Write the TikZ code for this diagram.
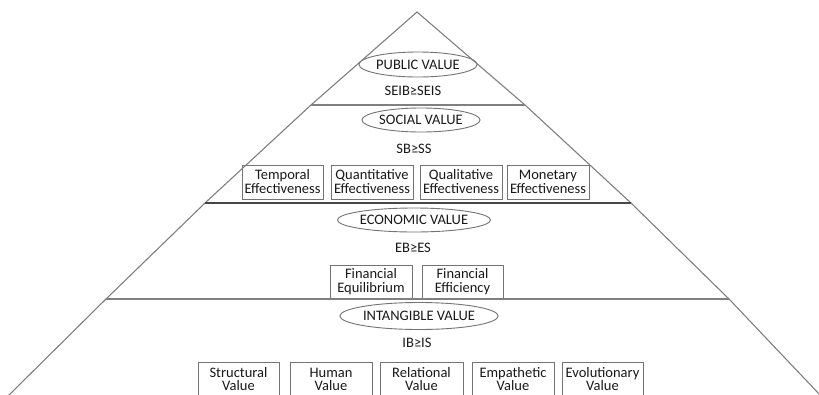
\documentclass[tikz,border=0pt]{standalone}
\usepackage{fontspec}
\setmainfont{Carlito}
\usetikzlibrary{shapes.geometric}
\begin{document}
\begin{tikzpicture}[x=1pt,y=-1pt,
  side/.style={draw=black!50, line width=1.1pt},
  sep/.style={draw=black!50, line width=1.4pt},
  sepdark/.style={draw=black!72, line width=1.6pt},
  lvl/.style={ellipse, draw=black!55, line width=0.9pt, inner sep=0pt, font=\fontsize{14.5}{14}\selectfont, text=black!90},
  rel/.style={font=\fontsize{14.5}{14}\selectfont, text=black!90, inner sep=0pt},
  item/.style={rectangle, draw=black!55, line width=0.9pt, align=center, inner sep=0pt, font=\fontsize{14.5}{14}\selectfont, text=black!90},
  lowitem/.style={item, font=\fontsize{14.5}{13}\selectfont, text depth=0pt}
]
\useasboundingbox (0,0) rectangle (819,394);
\clip (0,0) rectangle (819,394);
\fill[white] (0,0) rectangle (819,394);

% triangle outline
\coordinate (apex) at (417,12);
\coordinate (L1) at (311,105);
\coordinate (L2) at (205,203);
\coordinate (L3) at (106,299);
\coordinate (L4) at (8,396);
\coordinate (R1) at (525,105);
\coordinate (R2) at (631,203);
\coordinate (R3) at (729,299);
\coordinate (R4) at (821,396);

% public value
\node[lvl, minimum width=106pt, minimum height=25pt] (pub) at (418,64.5) {PUBLIC VALUE};
\node[rel] (pubr) at (413,91) {SEIB≥SEIS};

% social value
\node[lvl, minimum width=107pt, minimum height=24pt] (soc) at (421,120) {SOCIAL VALUE};
\node[rel] (socr) at (414,149) {SB≥SS};
\node[item, minimum width=81pt, minimum height=34pt] (temp) at (282.5,182) {Temporal\\Effectiveness};
\node[item, minimum width=82pt, minimum height=34pt] (quan) at (372,182) {Quantitative\\Effectiveness};
\node[item, minimum width=82pt, minimum height=34pt] (qual) at (461,182) {Qualitative\\Effectiveness};
\node[item, minimum width=82pt, minimum height=34pt] (mone) at (548,182) {Monetary\\Effectiveness};

% economic value
\node[lvl, minimum width=124pt, minimum height=24pt] (eco) at (414,220) {ECONOMIC VALUE};
\node[rel] (ecor) at (413,248) {EB≥ES};
\node[item, minimum width=82pt, minimum height=34pt] (fequ) at (371,282) {Financial\\Equilibrium};
\node[item, minimum width=81pt, minimum height=34pt] (feff) at (462.5,282) {Financial\\Efficiency};

% intangible value
\node[lvl, minimum width=145pt, minimum height=27pt] (inta) at (419,316) {INTANGIBLE VALUE};
\node[rel] (intr) at (417,343) {IB≥IS};
\node[lowitem, minimum width=81pt, minimum height=34pt] (stru) at (238.5,379) {Structural\\Value};
\node[lowitem, minimum width=82pt, minimum height=34pt] (huma) at (331,379) {Human\\Value};
\node[lowitem, minimum width=83pt, minimum height=34pt] (rela) at (421.5,379) {Relational\\Value};
\node[lowitem, minimum width=82pt, minimum height=34pt] (empa) at (513,379) {Empathetic\\Value};
\node[lowitem, minimum width=81pt, minimum height=34pt] (evol) at (602.5,379) {Evolutionary\\Value};

% outline and level separators
\draw[side] (L4) -- (L3) -- (L2) -- (L1) -- (apex) -- (R1) -- (R2) -- (R3) -- (R4);
\draw[sep] (L1) -- (R1);
\draw[sepdark] (L2) -- (R2);
\draw[sep] (L3) -- (R3);
\end{tikzpicture}
\end{document}
